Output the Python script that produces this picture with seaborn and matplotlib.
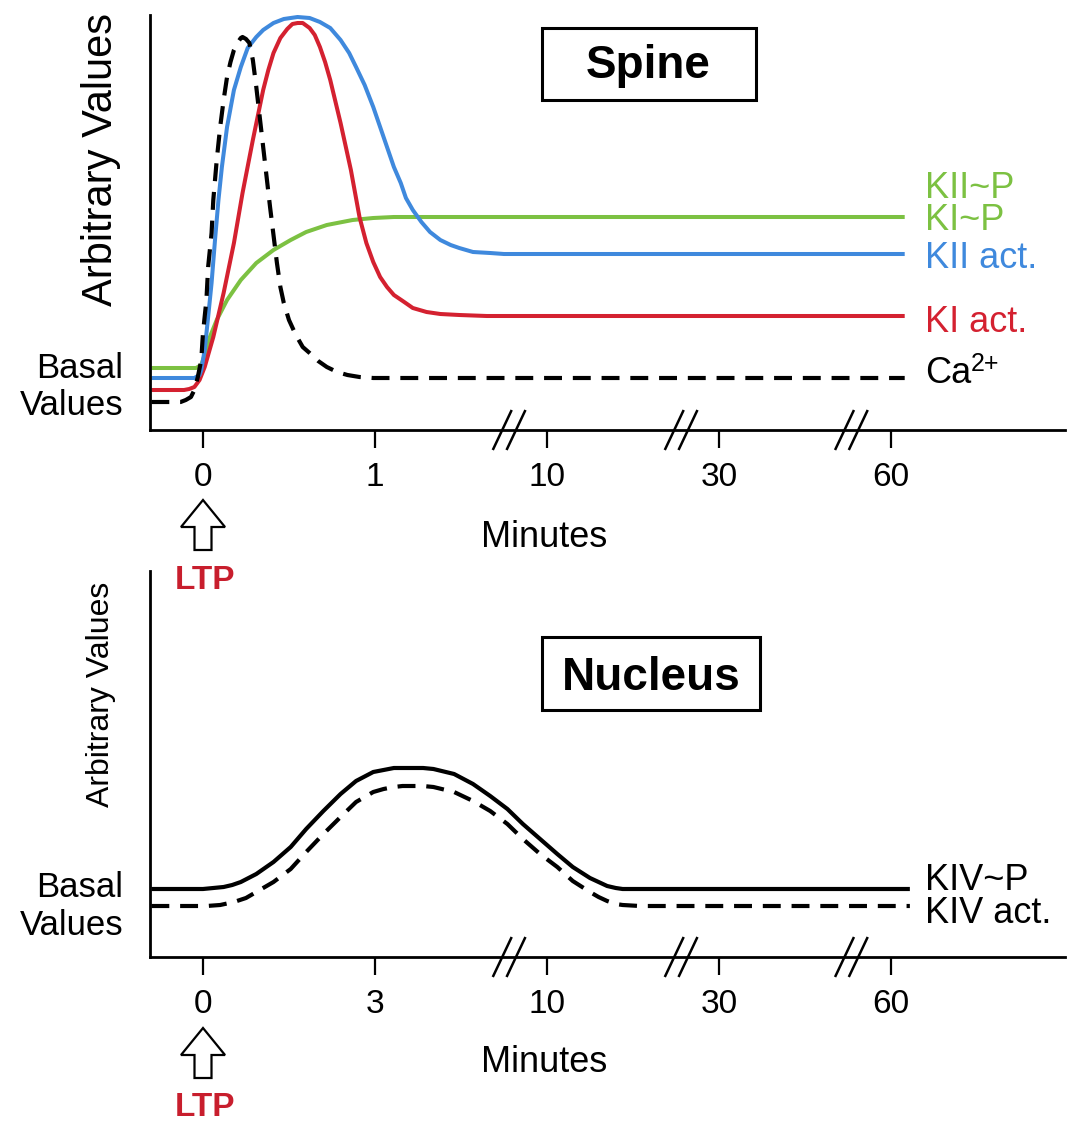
import matplotlib
matplotlib.use('Agg')
import matplotlib.pyplot as plt
from matplotlib.patches import Polygon, Rectangle
import seaborn as sns

# x positions are tick slots (0, 1, 10, 30, 60 minutes on a broken axis)
tick_pos = [0, 1, 2, 3, 4]
spine_ticks = ['0', '1', '10', '30', '60']
nucleus_ticks = ['0', '3', '10', '30', '60']
break_pos = [1.78, 2.78, 3.77]

# --- Spine panel ---
kii_p_x = [-0.30, -0.04, -0.01, 0.01, 0.04, 0.08, 0.14, 0.22, 0.31, 0.41, 0.51, 0.60, 0.72,
           0.87, 0.99, 1.11, 4.08]
kii_p_y = [0.62, 0.62, 0.65, 0.75, 0.93, 1.10, 1.30, 1.50, 1.67, 1.80, 1.90, 1.98, 2.05,
           2.10, 2.12, 2.13, 2.13]

kii_act_x = [-0.30, -0.05, -0.02, -0.01, 0.01, 0.03, 0.05, 0.07, 0.09, 0.11, 0.14, 0.18, 0.22,
             0.26, 0.31, 0.35, 0.41, 0.47, 0.55, 0.62, 0.68, 0.74, 0.80, 0.85, 0.89, 0.94, 0.99,
             1.03, 1.07, 1.11, 1.15, 1.18, 1.22, 1.27, 1.32, 1.38, 1.44, 1.49, 1.57, 1.67, 1.75, 4.08]
kii_act_y = [0.52, 0.52, 0.55, 0.60, 0.80, 1.13, 1.47, 1.90, 2.30, 2.63, 3.03, 3.40, 3.63,
             3.82, 3.93, 4.00, 4.07, 4.11, 4.13, 4.12, 4.08, 4.02, 3.90, 3.77, 3.63, 3.45, 3.23,
             3.03, 2.83, 2.63, 2.47, 2.32, 2.20, 2.08, 1.98, 1.90, 1.85, 1.82, 1.78, 1.77, 1.76, 1.76]

ki_act_x = [-0.30, -0.11, -0.08, -0.05, -0.02, 0.01, 0.06, 0.12, 0.18, 0.23, 0.29, 0.35, 0.38,
            0.41, 0.45, 0.49, 0.52, 0.55, 0.58, 0.62, 0.65, 0.68, 0.71, 0.74, 0.80, 0.86, 0.91,
            0.95, 0.99, 1.03, 1.07, 1.11, 1.17, 1.22, 1.30, 1.38, 1.49, 1.65, 4.08]
ki_act_y = [0.40, 0.40, 0.41, 0.43, 0.50, 0.63, 0.93, 1.37, 1.87, 2.37, 2.90, 3.40, 3.60,
            3.77, 3.92, 4.01, 4.06, 4.07, 4.07, 4.02, 3.95, 3.83, 3.68, 3.50, 3.07, 2.60, 2.13,
            1.87, 1.68, 1.53, 1.43, 1.35, 1.28, 1.22, 1.18, 1.16, 1.15, 1.14, 1.14]

ca_x = [-0.30, -0.13, -0.10, -0.07, -0.05, -0.03, -0.01, 0.00, 0.02, 0.03, 0.05, 0.06, 0.08,
        0.10, 0.12, 0.14, 0.16, 0.18, 0.20, 0.22, 0.23, 0.25, 0.27, 0.29, 0.31, 0.33, 0.35,
        0.37, 0.39, 0.41, 0.43, 0.45, 0.47, 0.50, 0.54, 0.58, 0.62, 0.67, 0.72, 0.78, 0.84,
        0.91, 0.99, 4.08]
ca_y = [0.28, 0.28, 0.30, 0.33, 0.40, 0.53, 0.70, 0.97, 1.30, 1.63, 1.97, 2.30, 2.70,
        3.03, 3.30, 3.53, 3.68, 3.80, 3.87, 3.92, 3.93, 3.91, 3.87, 3.70, 3.43, 3.13, 2.83,
        2.53, 2.23, 1.95, 1.67, 1.43, 1.27, 1.10, 0.95, 0.83, 0.77, 0.69, 0.63, 0.58, 0.55,
        0.53, 0.52, 0.52]

# --- Nucleus panel ---
kiv_p_x = [-0.30, 0.00, 0.06, 0.12, 0.17, 0.22, 0.31, 0.41, 0.51, 0.60, 0.70, 0.80, 0.89,
           0.99, 1.05, 1.11, 1.16, 1.22, 1.28, 1.34, 1.46, 1.57, 1.67, 1.77, 1.86, 1.96, 2.06,
           2.15, 2.25, 2.30, 2.35, 2.40, 2.44, 2.50, 4.11]
kiv_p_y = [0.68, 0.68, 0.69, 0.70, 0.72, 0.75, 0.83, 0.95, 1.10, 1.28, 1.46, 1.63, 1.76,
           1.85, 1.87, 1.89, 1.89, 1.89, 1.89, 1.88, 1.83, 1.73, 1.61, 1.48, 1.33, 1.18, 1.03,
           0.90, 0.79, 0.75, 0.71, 0.69, 0.68, 0.68, 0.68]

kiv_act_x = [-0.30, 0.02, 0.10, 0.18, 0.25, 0.31, 0.41, 0.51, 0.60, 0.70, 0.80, 0.89, 0.99,
             1.05, 1.11, 1.16, 1.22, 1.28, 1.34, 1.46, 1.57, 1.67, 1.77, 1.86, 1.96, 2.06,
             2.15, 2.25, 2.30, 2.35, 2.40, 2.44, 2.54, 4.11]
kiv_act_y = [0.51, 0.51, 0.52, 0.55, 0.59, 0.65, 0.75, 0.88, 1.05, 1.23, 1.40, 1.55, 1.65,
             1.68, 1.70, 1.71, 1.71, 1.71, 1.70, 1.65, 1.56, 1.46, 1.33, 1.18, 1.03, 0.90,
             0.76, 0.65, 0.60, 0.56, 0.53, 0.52, 0.51, 0.51]

GREEN = '#7cc142'
BLUE = '#3f89dd'
RED = '#d42130'
LTP_RED = '#c81e2d'
DASH = (0, (4.3, 2.6))

sns.set_style('white')
plt.rcParams['font.family'] = ['Liberation Sans', 'DejaVu Sans']
plt.rcParams['text.color'] = 'black'
plt.rcParams['xtick.color'] = 'black'
plt.rcParams['xtick.labelcolor'] = 'black'

W, H = 1070, 1121
fig = plt.figure(figsize=(W / 100, H / 100), dpi=100)


def put(px, py, s, **kw):
    # place text using pixel coordinates of the figure (origin top-left)
    return fig.text(px / W, 1 - py / H, s, **kw)


def fig_xy(pts):
    return [(px / W, 1 - py / H) for px, py in pts]


def setup_axis(ax, ylim, labels):
    ax.set_xlim(-0.308, 5.012)
    ax.set_ylim(*ylim)
    sns.despine(ax=ax)
    for side in ['left', 'bottom']:
        ax.spines[side].set_linewidth(2.0)
        ax.spines[side].set_color('black')
    ax.set_xticks(tick_pos, labels)
    ax.set_yticks([])
    ax.tick_params(axis='x', direction='out', length=13, width=1.6, pad=10,
                   labelsize=24, color='black', labelcolor='black', bottom=True)
    for b in break_pos:
        for off in (-0.04, 0.04):
            ax.plot([b + off - 0.055, b + off + 0.055], [-0.2, 0.2], color='black',
                    lw=1.8, clip_on=False, solid_capstyle='butt')


ax1 = fig.add_axes([150 / W, 1 - 430 / H, 915 / W, 415 / H])
ax2 = fig.add_axes([150 / W, 1 - 957 / H, 915 / W, 386 / H])

line_kw = dict(sort=False, solid_joinstyle='round', solid_capstyle='butt')

# spine curves
sns.lineplot(x=kii_p_x, y=kii_p_y, ax=ax1, color=GREEN, lw=2.9, **line_kw)
sns.lineplot(x=ki_act_x, y=ki_act_y, ax=ax1, color=RED, lw=2.9, **line_kw)
sns.lineplot(x=kii_act_x, y=kii_act_y, ax=ax1, color=BLUE, lw=2.9, **line_kw)
sns.lineplot(x=ca_x, y=ca_y, ax=ax1, color='black', lw=3.0, linestyle=DASH, sort=False)
setup_axis(ax1, (0, 4.15), spine_ticks)

# nucleus curves
sns.lineplot(x=kiv_p_x, y=kiv_p_y, ax=ax2, color='black', lw=3.0, **line_kw)
sns.lineplot(x=kiv_act_x, y=kiv_act_y, ax=ax2, color='black', lw=3.0, linestyle=DASH, sort=False)
setup_axis(ax2, (0, 3.86), nucleus_ticks)

# axis titles
put(101, 160, 'Arbitrary Values', rotation=90, ha='center', va='center', fontsize=30)
put(101, 694, 'Arbitrary Values', rotation=90, ha='center', va='center', fontsize=23)
for base in ([378, 415], [897, 935]):
    put(123, base[0], 'Basal', ha='right', va='baseline', fontsize=25)
    put(123, base[1], 'Values', ha='right', va='baseline', fontsize=25)
put(544, 547, 'Minutes', ha='center', va='baseline', fontsize=26)
put(544, 1072, 'Minutes', ha='center', va='baseline', fontsize=26)

# curve labels
put(925, 198, 'KII~P', color=GREEN, va='baseline', fontsize=26)
put(925, 230, 'KI~P', color=GREEN, va='baseline', fontsize=26)
put(925, 268, 'KII act.', color=BLUE, va='baseline', fontsize=26)
put(925, 332, 'KI act.', color=RED, va='baseline', fontsize=26)
put(925, 383, 'Ca', color='black', va='baseline', fontsize=26)
put(971, 371, '2+', color='black', va='baseline', fontsize=18)
put(925, 890, 'KIV~P', color='black', va='baseline', fontsize=26)
put(925, 923, 'KIV act.', color='black', va='baseline', fontsize=26)

# panel titles in boxes
fig.add_artist(Rectangle((542 / W, 1 - 100 / H), 214 / W, 72 / H, transform=fig.transFigure,
                         fill=False, ec='black', lw=2.2))
put(648, 78, 'Spine', ha='center', va='baseline', fontsize=33, fontweight='bold')
fig.add_artist(Rectangle((542 / W, 1 - 710 / H), 218 / W, 73 / H, transform=fig.transFigure,
                         fill=False, ec='black', lw=2.2))
put(651, 690, 'Nucleus', ha='center', va='baseline', fontsize=33, fontweight='bold')

# LTP arrows
for dy, ltp_base in ((0, 589), (528, 1116)):
    arrow = [(203, 500), (181, 527), (194.5, 527), (194.5, 550),
             (211.5, 550), (211.5, 527), (225, 527)]
    fig.add_artist(Polygon(fig_xy([(x, y + dy) for x, y in arrow]), closed=True,
                           transform=fig.transFigure, fc='white', ec='black', lw=1.6))
    put(205, ltp_base, 'LTP', color=LTP_RED, ha='center', va='baseline',
        fontsize=24, fontweight='bold')

fig.savefig('out.png', dpi=100)
